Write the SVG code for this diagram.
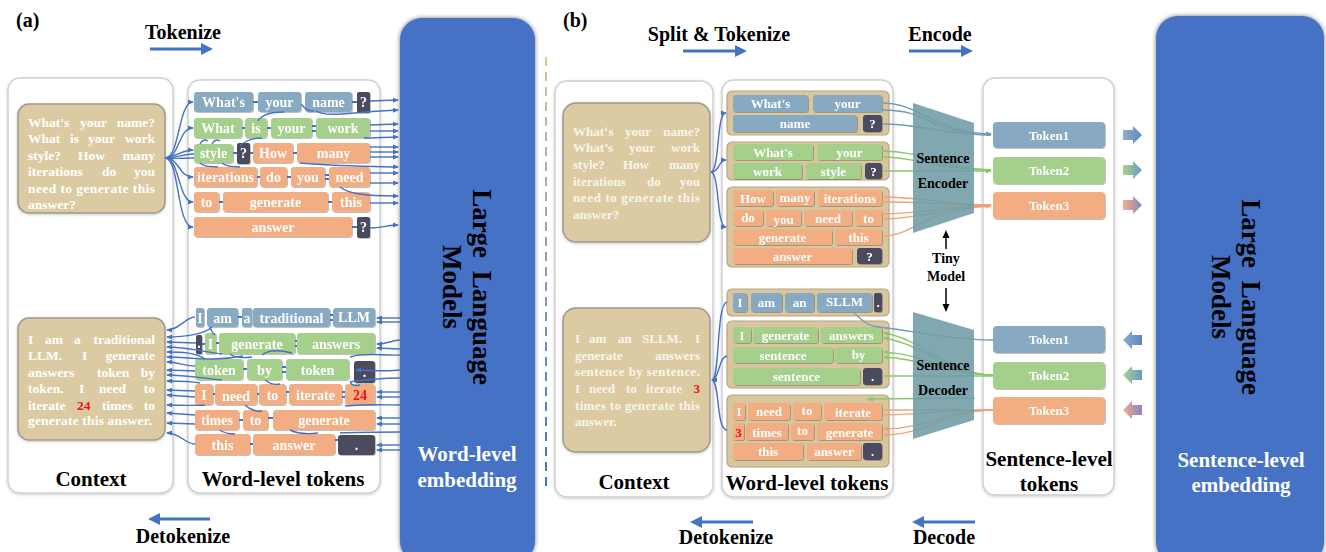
<svg xmlns="http://www.w3.org/2000/svg" width="1326" height="552" viewBox="0 0 1326 552">
<defs>
<style>
.serif{font-family:"Liberation Serif","Times New Roman",serif;font-weight:bold}
.title{font-family:"Liberation Serif","Times New Roman",serif;font-weight:bold;font-size:20px;fill:#000}
.lbl{font-family:"Liberation Serif","Times New Roman",serif;font-weight:bold;font-size:21px;fill:#000;text-anchor:middle}
.panel{fill:#fff;stroke:#cfcfcf;stroke-width:1.5}
.ctx{fill:#DCCBA2;stroke:#9d998f;stroke-width:1.5}
.ctxt{font-family:"Liberation Serif","Times New Roman",serif;font-weight:bold;font-size:13.5px;fill:#fff}
.ctxb{font-family:"Liberation Serif","Times New Roman",serif;font-weight:bold;font-size:13px;fill:#F9F5EC}
.tb{fill:#87A9C1}
.tg{fill:#A5D08C}
.to{fill:#F2AE82}
.td{fill:#4B4B5E}
.tt{font-family:"Liberation Serif","Times New Roman",serif;font-weight:bold;font-size:14px;fill:#fff;text-anchor:middle}
.tu{font-family:"Liberation Serif","Times New Roman",serif;font-weight:bold;font-size:13px;fill:#fff;text-anchor:middle}
.red{fill:#E8141B}
.grp{fill:#D8C69F;stroke:#B6A582;stroke-width:1.2}
.llm{fill:#4472C4}
.llmt{font-family:"Liberation Serif","Times New Roman",serif;font-weight:bold;font-size:27px;fill:#000;text-anchor:middle}
.emb{font-family:"Liberation Serif","Times New Roman",serif;font-weight:bold;font-size:21px;fill:#fff;text-anchor:middle}
.c{fill:none;stroke:#4472C4;stroke-width:1.4}
.cd{fill:none;stroke:#4472C4;stroke-width:2.2}
.cs{fill:none;stroke:#6E9CBA;stroke-width:1.3}
.cg{fill:none;stroke:#8DC56E;stroke-width:1.3}
.co{fill:none;stroke:#F0A274;stroke-width:1.3}
.big{fill:none;stroke:#4472C4;stroke-width:3}
.trap{fill:#6F9CA5;opacity:0.88}
.trt{font-family:"Liberation Serif","Times New Roman",serif;font-weight:bold;font-size:14px;fill:#000;text-anchor:middle}
</style>
<filter id="sh" x="-20%" y="-30%" width="140%" height="160%"><feDropShadow dx="0.8" dy="0.8" stdDeviation="0.7" flood-color="#000" flood-opacity="0.3"/></filter>
<filter id="psh" x="-10%" y="-10%" width="120%" height="120%"><feDropShadow dx="0" dy="1" stdDeviation="1.5" flood-color="#000" flood-opacity="0.2"/></filter>
<filter id="bsh" x="-10%" y="-10%" width="120%" height="120%"><feDropShadow dx="0" dy="0" stdDeviation="2.2" flood-color="#222" flood-opacity="0.65"/></filter>
<marker id="ab" markerWidth="6" markerHeight="6" refX="5" refY="3" orient="auto" markerUnits="userSpaceOnUse"><path d="M0,0.5 L6,3 L0,5.5z" fill="#4472C4"/></marker>
<marker id="as" markerWidth="6" markerHeight="6" refX="5" refY="3" orient="auto" markerUnits="userSpaceOnUse"><path d="M0,0.5 L6,3 L0,5.5z" fill="#6E9CBA"/></marker>
<marker id="ag" markerWidth="6" markerHeight="6" refX="5" refY="3" orient="auto" markerUnits="userSpaceOnUse"><path d="M0,0.5 L6,3 L0,5.5z" fill="#8DC56E"/></marker>
<marker id="ao" markerWidth="6" markerHeight="6" refX="5" refY="3" orient="auto" markerUnits="userSpaceOnUse"><path d="M0,0.5 L6,3 L0,5.5z" fill="#F0A274"/></marker>
<marker id="abig" markerWidth="12" markerHeight="12" refX="0" refY="6" orient="auto" markerUnits="userSpaceOnUse"><path d="M0,0 L12,6 L0,12z" fill="#4472C4"/></marker>
<marker id="ak" markerWidth="8" markerHeight="8" refX="0" refY="4" orient="auto" markerUnits="userSpaceOnUse"><path d="M0,0.5 L8,4 L0,7.5z" fill="#000"/></marker>
<linearGradient id="dash" gradientUnits="userSpaceOnUse" x1="546" y1="57" x2="546" y2="490"><stop offset="0" stop-color="#D9C39A"/><stop offset="1" stop-color="#4472C4"/></linearGradient>
<linearGradient id="gr1" x1="0" y1="0" x2="1" y2="0"><stop offset="0" stop-color="#8FB0C6"/><stop offset="1" stop-color="#5B86C6"/></linearGradient>
<linearGradient id="gr2" x1="0" y1="0" x2="1" y2="0"><stop offset="0" stop-color="#A8D38E"/><stop offset="1" stop-color="#6C98C6"/></linearGradient>
<linearGradient id="gr3" x1="0" y1="0" x2="1" y2="0"><stop offset="0" stop-color="#F4B088"/><stop offset="1" stop-color="#8A82C4"/></linearGradient>
</defs>
<rect width="1326" height="552" fill="#fff"/>

<!-- ===== Part (a): word-level pipeline ===== -->
<text class="title" x="16" y="27">(a)</text>
<text class="title" x="183" y="39" text-anchor="middle">Tokenize</text>
<text class="title" x="183" y="543" text-anchor="middle">Detokenize</text>

<g id="a-context-panel"><rect class="panel" x="8" y="78" width="165" height="415" rx="12" filter="url(#psh)"/><text class="lbl" x="91" y="486">Context</text></g>
<g id="a-token-panel"><rect class="panel" x="188" y="80" width="192" height="413" rx="12" filter="url(#psh)"/><text class="lbl" x="283" y="486">Word-level tokens</text></g>

<g id="a-context-question">
<rect class="ctx" x="18" y="104" width="147" height="109" rx="11" filter="url(#psh)"/>
<text class="ctxt" y="127"><tspan x="28">What's</tspan><tspan x="80">your</tspan><tspan x="155" text-anchor="end">name?</tspan></text>
<text class="ctxt" y="143"><tspan x="28">What</tspan><tspan x="70">is</tspan><tspan x="88">your</tspan><tspan x="155" text-anchor="end">work</tspan></text>
<text class="ctxt" y="160"><tspan x="28">style?</tspan><tspan x="78">How</tspan><tspan x="155" text-anchor="end">many</tspan></text>
<text class="ctxt" y="176"><tspan x="28">iterations</tspan><tspan x="102">do</tspan><tspan x="155" text-anchor="end">you</tspan></text>
<text class="ctxt" x="28" y="193" textLength="127" lengthAdjust="spacing">need to generate this</text>
<text class="ctxt" x="28" y="209">answer?</text>
</g>
<g id="a-context-answer">
<rect class="ctx" x="18" y="318" width="147" height="122" rx="11" filter="url(#psh)"/>
<text class="ctxt" y="344"><tspan x="28">I</tspan><tspan x="45">am</tspan><tspan x="74">a</tspan><tspan x="155" text-anchor="end">traditional</tspan></text>
<text class="ctxt" y="360"><tspan x="28">LLM.</tspan><tspan x="82">I</tspan><tspan x="155" text-anchor="end">generate</tspan></text>
<text class="ctxt" y="377"><tspan x="28">answers</tspan><tspan x="97">token</tspan><tspan x="155" text-anchor="end">by</tspan></text>
<text class="ctxt" y="393"><tspan x="28">token.</tspan><tspan x="79">I</tspan><tspan x="99">need</tspan><tspan x="155" text-anchor="end">to</tspan></text>
<text class="ctxt" y="410"><tspan x="28">iterate</tspan><tspan x="77" class="red">24</tspan><tspan x="102">times</tspan><tspan x="155" text-anchor="end">to</tspan></text>
<text class="ctxt" x="28" y="425" textLength="124" lengthAdjust="spacing">generate this answer.</text>
</g>

<!-- word tokens of the question -->
<g id="a-question-tokens" filter="url(#sh)">
<g id="aq-whats"><rect class="tb" x="194" y="92" width="59" height="20" rx="3"/><text class="tt" x="223.5" y="107">What's</text></g>
<g id="aq-your"><rect class="tb" x="258" y="92" width="43" height="20" rx="3"/><text class="tt" x="279.5" y="107">your</text></g>
<g id="aq-name"><rect class="tb" x="305" y="92" width="47" height="20" rx="3"/><text class="tt" x="328.5" y="107">name</text></g>
<g id="aq-q1"><rect class="td" x="357" y="92" width="13" height="21" rx="2"/><text class="tt" x="363.5" y="107">?</text></g>
<g id="aq-what"><rect class="tg" x="194" y="118" width="48" height="20" rx="3"/><text class="tt" x="218" y="133">What</text></g>
<g id="aq-is"><rect class="tg" x="245" y="118" width="22" height="20" rx="3"/><text class="tt" x="256" y="133">is</text></g>
<g id="aq-your2"><rect class="tg" x="271" y="118" width="41" height="20" rx="3"/><text class="tt" x="291.5" y="133">your</text></g>
<g id="aq-work"><rect class="tg" x="316" y="118" width="54" height="20" rx="3"/><text class="tt" x="343" y="133">work</text></g>
<g id="aq-style"><rect class="tg" x="194" y="144" width="39" height="19" rx="3"/><text class="tt" x="213.5" y="158">style</text></g>
<g id="aq-q2"><rect class="td" x="237" y="143" width="13" height="21" rx="2"/><text class="tt" x="243.5" y="158">?</text></g>
<g id="aq-how"><rect class="to" x="253" y="143" width="40" height="20" rx="3"/><text class="tt" x="273" y="158">How</text></g>
<g id="aq-many"><rect class="to" x="297" y="143" width="73" height="20" rx="3"/><text class="tt" x="333.5" y="158" font-size="12">many</text></g>
<g id="aq-iterations"><rect class="to" x="194" y="167" width="63" height="20" rx="3"/><text class="tt" x="225.5" y="182" font-size="12.5">iterations</text></g>
<g id="aq-do"><rect class="to" x="260" y="167" width="27" height="20" rx="3"/><text class="tt" x="273.5" y="182">do</text></g>
<g id="aq-you"><rect class="to" x="291" y="167" width="34" height="20" rx="3"/><text class="tt" x="308" y="182">you</text></g>
<g id="aq-need"><rect class="to" x="329" y="167" width="41" height="20" rx="3"/><text class="tt" x="349.5" y="182">need</text></g>
<g id="aq-to"><rect class="to" x="194" y="192" width="25" height="20" rx="3"/><text class="tt" x="206.5" y="207">to</text></g>
<g id="aq-generate"><rect class="to" x="223" y="192" width="105" height="20" rx="3"/><text class="tt" x="275.5" y="207">generate</text></g>
<g id="aq-this"><rect class="to" x="332" y="192" width="38" height="20" rx="3"/><text class="tt" x="351" y="207">this</text></g>
<g id="aq-answer"><rect class="to" x="194" y="217" width="158" height="20" rx="3"/><text class="tt" x="273" y="232">answer</text></g>
<g id="aq-q3"><rect class="td" x="357" y="217" width="13" height="21" rx="2"/><text class="tt" x="363.5" y="232">?</text></g>
</g>

<!-- word tokens of the answer -->
<g id="a-answer-tokens" filter="url(#sh)">
<g id="aa-i1"><rect class="tb" x="196" y="308" width="8" height="19" rx="2"/><text class="tt" x="200" y="322.5">I</text></g>
<g id="aa-am"><rect class="tb" x="207" y="308" width="31" height="19" rx="3"/><text class="tt" x="222.5" y="322.5">am</text></g>
<g id="aa-a"><rect class="tb" x="242" y="308" width="10" height="19" rx="2"/><text class="tt" x="247" y="322.5">a</text></g>
<g id="aa-traditional"><rect class="tb" x="253" y="308" width="77" height="19" rx="3"/><text class="tt" x="291.5" y="322.5">traditional</text></g>
<g id="aa-llm"><rect class="tb" x="333" y="308" width="42" height="19" rx="3"/><text class="tt" x="354" y="322" font-size="12">LLM</text></g>
<g id="aa-dot1"><rect class="td" x="196" y="335" width="6" height="19" rx="1.5"/><text class="tt" x="199" y="348" font-size="11">.</text></g>
<g id="aa-i2"><rect class="tg" x="205" y="333" width="11" height="21" rx="2"/><text class="tt" x="210.5" y="348.5">I</text></g>
<g id="aa-generate"><rect class="tg" x="219" y="333" width="76" height="21" rx="3"/><text class="tt" x="257" y="348.5">generate</text></g>
<g id="aa-answers"><rect class="tg" x="297" y="333" width="78" height="21" rx="3"/><text class="tt" x="336" y="348.5">answers</text></g>
<g id="aa-token1"><rect class="tg" x="195" y="359" width="48" height="21" rx="3"/><text class="tt" x="219" y="374.5">token</text></g>
<g id="aa-by"><rect class="tg" x="247" y="359" width="35" height="21" rx="3"/><text class="tt" x="264.5" y="374.5">by</text></g>
<g id="aa-token2"><rect class="tg" x="286" y="359" width="63" height="21" rx="3"/><text class="tt" x="317.5" y="374.5">token</text></g>
<g id="aa-dot2"><rect class="td" x="354" y="361" width="21" height="22" rx="3"/><text class="tt" x="364.5" y="377">.</text></g>
<g id="aa-i3"><rect class="to" x="195" y="384" width="18" height="21" rx="3"/><text class="tt" x="204" y="399.5">I</text></g>
<g id="aa-need"><rect class="to" x="215" y="384" width="42" height="21" rx="3"/><text class="tt" x="236" y="401">need</text></g>
<g id="aa-to1"><rect class="to" x="259" y="384" width="27" height="21" rx="3"/><text class="tt" x="272.5" y="399.5">to</text></g>
<g id="aa-iterate"><rect class="to" x="289" y="384" width="53" height="21" rx="3"/><text class="tt" x="315.5" y="399.5">iterate</text></g>
<g id="aa-24"><rect class="to" x="345" y="384" width="30" height="21" rx="3"/><text class="tt red" x="360" y="399.5">24</text></g>
<g id="aa-times"><rect class="to" x="195" y="410" width="44" height="20" rx="3"/><text class="tt" x="217" y="425">times</text></g>
<g id="aa-to2"><rect class="to" x="243" y="410" width="25" height="20" rx="3"/><text class="tt" x="255.5" y="425">to</text></g>
<g id="aa-generate2"><rect class="to" x="273" y="410" width="102" height="20" rx="3"/><text class="tt" x="324" y="425">generate</text></g>
<g id="aa-this"><rect class="to" x="195" y="434" width="55" height="21" rx="3"/><text class="tt" x="222.5" y="449.5">this</text></g>
<g id="aa-answer"><rect class="to" x="253" y="434" width="82" height="21" rx="3"/><text class="tt" x="294" y="449.5">answer</text></g>
<g id="aa-dot3"><rect class="td" x="338" y="435" width="37" height="20" rx="3"/><text class="tt" x="356.5" y="450">.</text></g>
</g>

<g id="a-llm">
<rect class="llm" x="400" y="18" width="135" height="545" rx="22" filter="url(#bsh)"/>
<g transform="translate(467,287) rotate(90)">
<text class="llmt" x="0" y="-6" word-spacing="6">Large Language</text>
<text class="llmt" x="0" y="24">Models</text>
</g>
<text class="emb" x="467" y="461">Word-level</text>
<text class="emb" x="467" y="487">embedding</text>
</g>

<!-- divider between the two parts -->
<line x1="546" y1="57" x2="546" y2="490" stroke="url(#dash)" stroke-width="2" stroke-dasharray="9 6"/>

<!-- ===== Part (b): sentence-level pipeline ===== -->
<text class="title" x="563" y="27">(b)</text>
<text class="title" x="719" y="41" text-anchor="middle">Split &amp; Tokenize</text>
<text class="title" x="940" y="41" text-anchor="middle">Encode</text>
<text class="title" x="726" y="544" text-anchor="middle">Detokenize</text>
<text class="title" x="944" y="544" text-anchor="middle">Decode</text>

<g id="b-context-panel"><rect class="panel" x="555" y="81" width="158" height="416" rx="12" filter="url(#psh)"/><text class="lbl" x="634" y="489">Context</text></g>
<g id="b-token-panel"><rect class="panel" x="722" y="80" width="171" height="417" rx="12" filter="url(#psh)"/><text class="lbl" x="807" y="490">Word-level tokens</text></g>
<g id="b-sentence-panel"><rect class="panel" x="983" y="78" width="131" height="417" rx="12" filter="url(#psh)"/><text class="lbl" x="1049" y="466">Sentence-level</text><text class="lbl" x="1049" y="491">tokens</text></g>

<g id="b-context-question">
<rect class="ctx" x="563" y="103" width="147" height="139" rx="13" filter="url(#psh)"/>
<text class="ctxb" y="136"><tspan x="573">What‘s</tspan><tspan x="625">your</tspan><tspan x="700" text-anchor="end">name?</tspan></text>
<text class="ctxb" y="152"><tspan x="573">What’s</tspan><tspan x="629">your</tspan><tspan x="700" text-anchor="end">work</tspan></text>
<text class="ctxb" y="169"><tspan x="573">style?</tspan><tspan x="623">How</tspan><tspan x="700" text-anchor="end">many</tspan></text>
<text class="ctxb" y="186"><tspan x="573">iterations</tspan><tspan x="647">do</tspan><tspan x="700" text-anchor="end">you</tspan></text>
<text class="ctxb" x="573" y="202" textLength="127" lengthAdjust="spacing">need to generate this</text>
<text class="ctxb" x="573" y="219">answer?</text>
</g>
<g id="b-context-answer">
<rect class="ctx" x="563" y="308" width="147" height="144" rx="13" filter="url(#psh)"/>
<text class="ctxb" y="343"><tspan x="575">I</tspan><tspan x="589">am</tspan><tspan x="618">an</tspan><tspan x="642">SLLM.</tspan><tspan x="700" text-anchor="end">I</tspan></text>
<text class="ctxb" y="360"><tspan x="575">generate</tspan><tspan x="700" text-anchor="end">answers</tspan></text>
<text class="ctxb" x="575" y="376" textLength="125" lengthAdjust="spacing">sentence by sentence.</text>
<text class="ctxb" y="393"><tspan x="575">I</tspan><tspan x="589">need</tspan><tspan x="626">to</tspan><tspan x="646">iterate</tspan><tspan x="700" text-anchor="end" class="red">3</tspan></text>
<text class="ctxb" x="575" y="410" textLength="125" lengthAdjust="spacing">times to generate this</text>
<text class="ctxb" x="575" y="426">answer.</text>
</g>

<!-- sentence groups of word tokens -->
<g id="b-sentence-1">
<rect class="grp" x="727" y="91" width="162" height="44" rx="5"/>
<g filter="url(#sh)">
<g id="b1-whats"><rect class="tb" x="733" y="95" width="75" height="17" rx="3"/><text class="tu" x="770.5" y="108">What's</text></g>
<g id="b1-your"><rect class="tb" x="813" y="95" width="69" height="17" rx="3"/><text class="tu" x="847.5" y="108">your</text></g>
<g id="b1-name"><rect class="tb" x="733" y="115" width="124" height="17" rx="3"/><text class="tu" x="795" y="128">name</text></g>
<g id="b1-q"><rect class="td" x="863" y="115" width="19" height="17" rx="3"/><text class="tu" x="872.5" y="128">?</text></g>
</g></g>
<g id="b-sentence-2">
<rect class="grp" x="727" y="142" width="162" height="38" rx="5"/>
<g filter="url(#sh)">
<g id="b2-whats"><rect class="tg" x="733" y="144" width="80" height="16" rx="3"/><text class="tu" x="773" y="156.5">What's</text></g>
<g id="b2-your"><rect class="tg" x="817" y="144" width="65" height="16" rx="3"/><text class="tu" x="849.5" y="157">your</text></g>
<g id="b2-work"><rect class="tg" x="733" y="163" width="69" height="16" rx="3"/><text class="tu" x="767.5" y="175.5">work</text></g>
<g id="b2-style"><rect class="tg" x="806" y="163" width="55" height="16" rx="3"/><text class="tu" x="833.5" y="175.5">style</text></g>
<g id="b2-q"><rect class="td" x="865" y="163" width="17" height="16" rx="3"/><text class="tu" x="873.5" y="175.5">?</text></g>
</g></g>
<g id="b-sentence-3">
<rect class="grp" x="727" y="187" width="162" height="80" rx="5"/>
<g filter="url(#sh)">
<g id="b3-how"><rect class="to" x="733" y="190" width="40" height="16" rx="3"/><text class="tu" x="753" y="202.5" font-size="12">How</text></g>
<g id="b3-many"><rect class="to" x="776" y="190" width="38" height="16" rx="3"/><text class="tu" x="795" y="202" font-size="9.5">many</text></g>
<g id="b3-iterations"><rect class="to" x="818" y="190" width="64" height="16" rx="3"/><text class="tu" x="850" y="202.5" font-size="12">iterations</text></g>
<g id="b3-do"><rect class="to" x="733" y="210" width="30" height="16" rx="3"/><text class="tu" x="748" y="222">do</text></g>
<g id="b3-you"><rect class="to" x="766" y="210" width="35" height="16" rx="3"/><text class="tu" x="783.5" y="223.5">you</text></g>
<g id="b3-need"><rect class="to" x="804" y="210" width="48" height="16" rx="3"/><text class="tu" x="828" y="223">need</text></g>
<g id="b3-to"><rect class="to" x="855" y="210" width="27" height="16" rx="3"/><text class="tu" x="868.5" y="223">to</text></g>
<g id="b3-generate"><rect class="to" x="733" y="229" width="99" height="16" rx="3"/><text class="tu" x="782.5" y="242">generate</text></g>
<g id="b3-this"><rect class="to" x="835" y="229" width="47" height="16" rx="3"/><text class="tu" x="858.5" y="242">this</text></g>
<g id="b3-answer"><rect class="to" x="733" y="248" width="119" height="16" rx="3"/><text class="tu" x="792.5" y="261">answer</text></g>
<g id="b3-q"><rect class="td" x="857" y="248" width="25" height="16" rx="3"/><text class="tu" x="869.5" y="261">?</text></g>
</g></g>
<g id="b-sentence-4">
<rect class="grp" x="727" y="289" width="162" height="27" rx="5"/>
<g filter="url(#sh)">
<g id="b4-i"><rect class="tb" x="733" y="293" width="14" height="19" rx="3"/><text class="tu" x="740" y="307">I</text></g>
<g id="b4-am"><rect class="tb" x="751" y="293" width="31" height="19" rx="3"/><text class="tu" x="766.5" y="307">am</text></g>
<g id="b4-an"><rect class="tb" x="785" y="293" width="29" height="19" rx="3"/><text class="tu" x="799.5" y="307">an</text></g>
<g id="b4-sllm"><rect class="tb" x="817" y="293" width="55" height="19" rx="3"/><text class="tu" x="844.5" y="306">SLLM</text></g>
<g id="b4-dot"><rect class="td" x="874" y="293" width="8" height="19" rx="2"/><text class="tu" x="878" y="307">.</text></g>
</g></g>
<g id="b-sentence-5">
<rect class="grp" x="727" y="321" width="162" height="67" rx="5"/>
<g filter="url(#sh)">
<g id="b5-i"><rect class="tg" x="733" y="327" width="18" height="16" rx="3"/><text class="tu" x="742" y="339.5">I</text></g>
<g id="b5-generate"><rect class="tg" x="753" y="327" width="65" height="16" rx="3"/><text class="tu" x="785.5" y="340">generate</text></g>
<g id="b5-answers"><rect class="tg" x="821" y="327" width="61" height="16" rx="3"/><text class="tu" x="851.5" y="340">answers</text></g>
<g id="b5-sentence1"><rect class="tg" x="733" y="347" width="100" height="16" rx="3"/><text class="tu" x="783" y="360">sentence</text></g>
<g id="b5-by"><rect class="tg" x="835" y="347" width="47" height="16" rx="3"/><text class="tu" x="858.5" y="359">by</text></g>
<g id="b5-sentence2"><rect class="tg" x="733" y="368" width="127" height="17" rx="3"/><text class="tu" x="796.5" y="381">sentence</text></g>
<g id="b5-dot"><rect class="td" x="863" y="368" width="19" height="17" rx="3"/><text class="tu" x="872.5" y="381">.</text></g>
</g></g>
<g id="b-sentence-6">
<rect class="grp" x="727" y="395" width="162" height="72" rx="5"/>
<g filter="url(#sh)">
<g id="b6-i"><rect class="to" x="733" y="403" width="12" height="17" rx="3"/><text class="tu" x="739" y="416">I</text></g>
<g id="b6-need"><rect class="to" x="748" y="403" width="42" height="17" rx="3"/><text class="tu" x="769" y="416">need</text></g>
<g id="b6-to1"><rect class="to" x="793" y="403" width="28" height="17" rx="3"/><text class="tu" x="807" y="415">to</text></g>
<g id="b6-iterate"><rect class="to" x="824" y="403" width="58" height="17" rx="3"/><text class="tu" x="853" y="417">iterate</text></g>
<g id="b6-3"><rect class="to" x="733" y="423" width="11" height="17" rx="2"/><text class="tu red" x="738.5" y="437">3</text></g>
<g id="b6-times"><rect class="to" x="746" y="423" width="42" height="17" rx="3"/><text class="tu" x="767" y="437">times</text></g>
<g id="b6-to2"><rect class="to" x="791" y="423" width="23" height="17" rx="3"/><text class="tu" x="802.5" y="435">to</text></g>
<g id="b6-generate"><rect class="to" x="817" y="423" width="65" height="17" rx="3"/><text class="tu" x="849.5" y="437">generate</text></g>
<g id="b6-this"><rect class="to" x="733" y="443" width="70" height="17" rx="3"/><text class="tu" x="768" y="456">this</text></g>
<g id="b6-answer"><rect class="to" x="807" y="443" width="54" height="17" rx="3"/><text class="tu" x="834" y="456">answer</text></g>
<g id="b6-dot"><rect class="td" x="863" y="443" width="19" height="17" rx="3"/><text class="tu" x="872.5" y="456">.</text></g>
</g></g>

<!-- ===== connectors ===== -->
<g id="connectors">
<!-- (a) context to question tokens -->
<path class="c" marker-end="url(#ab)" d="M165,158 C180,158 178,102 193,102"/>
<path class="c" marker-end="url(#ab)" d="M165,158 C180,158 178,128 193,128"/>
<path class="c" marker-end="url(#ab)" d="M165,158 C178,156 182,150 193,150"/>
<path class="c" d="M165,158 C178,158 182,154 194,154"/>
<path class="c" d="M165,158 C178,159 182,158 194,158"/>
<path class="c" marker-end="url(#ab)" d="M165,158 C180,158 178,177 193,177"/>
<path class="c" marker-end="url(#ab)" d="M165,158 C180,158 178,202 193,202"/>
<path class="c" marker-end="url(#ab)" d="M165,158 C180,158 176,227 193,227"/>
<!-- (a) links between question tokens -->
<path class="cd" d="M253,102 L258,102 M352,102 L357,102 M242,128 L245,128 M267,128 L271,128 M312,126 L316,126 M312,131 L316,131 M233,153 L237,153 M250,153 L253,153 M293,153 L297,153 M257,177 L260,177 M287,177 L291,177 M325,175 L329,175 M325,179 L329,179 M219,202 L223,202 M328,202 L332,202 M352,227 L357,227"/>
<path class="c" d="M301,104 C305,109 308,111 314,111"/>
<path class="c" d="M258,121 C262,114 272,112 284,112"/>
<path class="c" d="M240,146 C246,140 254,138 262,138"/>
<path class="c" d="M200,144 C202,140 205,139 208,141 M212,144 C214,140 217,139 220,141"/>
<path class="c" d="M200,163 C205,168 213,166 218,167 M222,163 C228,168 234,166 240,167"/>
<!-- (a) question tokens to the model -->
<path class="c" marker-end="url(#ab)" d="M370,101 L398,100"/>
<path class="c" marker-end="url(#ab)" d="M316,111 C328,118 350,112 398,110"/>
<path class="c" marker-end="url(#ab)" d="M370,125 L398,124"/>
<path class="c" marker-end="url(#ab)" d="M370,131 L398,131"/>
<path class="c" marker-end="url(#ab)" d="M364,138 C376,138 386,137 398,137"/>
<path class="c" marker-end="url(#ab)" d="M370,147 L398,147"/>
<path class="c" marker-end="url(#ab)" d="M370,152 L398,152"/>
<path class="c" marker-end="url(#ab)" d="M370,157 L398,157"/>
<path class="c" marker-end="url(#ab)" d="M300,163 C330,166 360,166 398,167"/>
<path class="c" marker-end="url(#ab)" d="M370,173 L398,173"/>
<path class="c" marker-end="url(#ab)" d="M370,183 L398,183"/>
<path class="c" marker-end="url(#ab)" d="M340,187 C348,193 360,196 398,196"/>
<path class="c" marker-end="url(#ab)" d="M370,203 L398,203"/>
<path class="c" marker-end="url(#ab)" d="M370,228 C382,228 388,225 398,225"/>
<!-- (a) answer tokens back to the context -->
<path class="c" marker-end="url(#ab)" d="M195,317 C185,317 180,330 167,330"/>
<path class="c" marker-end="url(#ab)" d="M212,327 C205,334 185,337 167,337"/>
<path class="c" marker-end="url(#ab)" d="M196,343 L167,342"/>
<path class="c" marker-end="url(#ab)" d="M222,354 C205,352 185,347 167,347"/>
<path class="c" marker-end="url(#ab)" d="M205,359 C195,352 180,352 167,352"/>
<path class="c" marker-end="url(#ab)" d="M243,356 C212,362 190,357 167,357"/>
<path class="c" marker-end="url(#ab)" d="M195,366 C185,366 178,362 167,362"/>
<path class="c" marker-end="url(#ab)" d="M195,371 L167,370"/>
<path class="c" marker-end="url(#ab)" d="M222,380 C200,378 185,375 167,375"/>
<path class="c" marker-end="url(#ab)" d="M200,383 C190,381 180,381 167,381"/>
<path class="c" marker-end="url(#ab)" d="M195,391 L167,390"/>
<path class="c" marker-end="url(#ab)" d="M195,397 L167,395"/>
<path class="c" marker-end="url(#ab)" d="M205,405 C195,406 180,405 167,405"/>
<path class="c" marker-end="url(#ab)" d="M195,415 L167,413"/>
<path class="c" marker-end="url(#ab)" d="M195,424 L167,423"/>
<path class="c" marker-end="url(#ab)" d="M195,444 C185,444 180,433 167,433"/>
<!-- (a) links between answer tokens -->
<path class="cd" d="M238,317 L242,317 M330,315 L333,315 M330,320 L333,320 M202,344 L205,344 M216,343 L219,343 M295,341 L297,341 M295,346 L297,346 M243,369 L247,369 M282,367 L286,367 M282,372 L286,372 M213,394 L215,394 M257,394 L259,394 M286,392 L289,392 M342,392 L345,392 M342,397 L345,397 M239,420 L243,420 M268,418 L273,418 M250,444 L253,444 M335,440 L338,440"/>
<path class="c" d="M230,354 C235,358 245,358 252,357"/>
<path class="c" d="M262,355 C268,350 280,350 292,353"/>
<path class="c" d="M210,327 C212,332 214,336 215,334"/>
<path class="c" d="M265,380 C270,384 275,385 280,384"/>
<path class="c" d="M245,405 C250,410 258,412 262,411"/>
<path class="c" d="M220,430 C225,434 230,434 235,434"/>
<path class="c" d="M290,430 C300,435 310,434 318,433"/>
<path class="c" d="M350,382 C352,386 356,386 360,385"/>
<!-- (a) model output back to the answer tokens -->
<path class="c" marker-end="url(#ab)" d="M400,318 L377,318"/>
<path class="c" marker-end="url(#ab)" d="M400,322 L377,322"/>
<path class="c" marker-end="url(#ab)" d="M400,340 C392,340 388,344 377,344"/>
<path class="c" marker-end="url(#ab)" d="M400,349 L377,348"/>
<path class="c" d="M400,355 C385,356 365,352 350,357"/>
<path class="c" marker-end="url(#ab)" d="M400,370 C385,372 370,370 356,370"/>
<path class="c" d="M400,378 C385,378 360,380 350,382"/>
<path class="c" marker-end="url(#ab)" d="M400,392 L377,392"/>
<path class="c" marker-end="url(#ab)" d="M400,397 L377,397"/>
<path class="c" d="M400,405 C385,405 370,404 345,406"/>
<path class="c" marker-end="url(#ab)" d="M400,418 L377,418"/>
<path class="c" marker-end="url(#ab)" d="M400,424 L377,424"/>
<path class="c" d="M400,432 C385,432 360,432 340,433"/>
<path class="c" marker-end="url(#ab)" d="M400,445 L377,445"/>
<path class="c" marker-end="url(#ab)" d="M400,450 L377,450"/>

<!-- (b) context to sentence groups -->
<path class="c" marker-end="url(#ab)" d="M711,172 C720,170 716,113 726,113"/>
<path class="c" marker-end="url(#ab)" d="M711,172 C720,172 718,160 726,160"/>
<path class="c" marker-end="url(#ab)" d="M711,172 C720,174 716,227 726,227"/>
<path class="c" marker-end="url(#ab)" d="M727,302 C716,304 720,380 712,380"/>
<path class="c" d="M727,356 C718,358 720,378 712,380"/>
<path class="c" d="M727,430 C716,430 720,382 712,380"/>
<!-- (b) sentence groups into the encoder -->
<path class="cs" marker-end="url(#as)" d="M882,103 C920,103 935,133 991,134"/>
<path class="cs" d="M882,110 C915,110 925,120 940,126 C955,131 970,135 991,135"/>
<path class="cs" d="M882,124 C925,124 940,135 991,135"/>
<path class="cg" d="M882,151 C925,151 940,169 991,170"/>
<path class="cg" d="M882,157 C915,157 935,169 991,170"/>
<path class="cg" marker-end="url(#ag)" d="M882,171 L991,171"/>
<path class="co" d="M882,197 C925,197 945,205 991,205"/>
<path class="co" d="M882,202 C925,202 945,205 991,205"/>
<path class="co" d="M882,214 C925,214 945,205 991,205"/>
<path class="co" d="M882,219 C925,219 945,206 991,206"/>
<path class="co" marker-end="url(#ao)" d="M882,236 C915,236 920,210 991,206"/>
<!-- (b) decoder out to the sentence groups -->
<path class="cs" d="M993,340 C950,340 910,330 878,327 C862,325 858,314 852,312"/>
<path class="cg" marker-end="url(#ag)" d="M993,375 C950,375 925,340 884,333"/>
<path class="cg" marker-end="url(#ag)" d="M993,375 C950,375 925,345 884,338"/>
<path class="cg" marker-end="url(#ag)" d="M993,375 C950,375 930,355 884,352"/>
<path class="cg" marker-end="url(#ag)" d="M993,375 C950,375 930,360 884,357"/>
<path class="cg" d="M993,376 L884,376"/>
<path class="cg" marker-end="url(#ag)" d="M975,398 L868,399"/>
<path class="co" d="M993,410 C950,410 930,410 884,410"/>
<path class="co" d="M993,410 C950,410 930,414 884,415"/>
<path class="co" marker-end="url(#ao)" d="M993,410 C945,410 930,428 884,429"/>
<path class="co" marker-end="url(#ao)" d="M993,410 C945,410 930,434 884,435"/>

<!-- stage arrows -->
<line class="big" x1="150" y1="49" x2="201" y2="49" marker-end="url(#abig)"/>
<line class="big" x1="210" y1="519" x2="160" y2="519" marker-end="url(#abig)"/>
<line class="big" x1="683" y1="51" x2="735" y2="51" marker-end="url(#abig)"/>
<line class="big" x1="909" y1="51" x2="961" y2="51" marker-end="url(#abig)"/>
<line class="big" x1="753" y1="522" x2="702" y2="522" marker-end="url(#abig)"/>
<line class="big" x1="975" y1="522" x2="924" y2="522" marker-end="url(#abig)"/>
<!-- tiny model arrows -->
<line x1="946" y1="249" x2="946" y2="238" stroke="#000" stroke-width="1.5" marker-end="url(#ak)"/>
<line x1="946" y1="288" x2="946" y2="304" stroke="#000" stroke-width="1.5" marker-end="url(#ak)"/>
</g>

<g id="b-encoder">
<polygon class="trap" points="913,103 974,123 974,213 913,233"/>
<text class="trt" x="943" y="163">Sentence</text>
<text class="trt" x="943" y="188">Encoder</text>
</g>
<g id="b-decoder">
<polygon class="trap" points="913,312 974,330 974,420 913,439"/>
<text class="trt" x="943" y="370">Sentence</text>
<text class="trt" x="943" y="395">Decoder</text>
</g>
<g id="b-tiny-model">
<text class="trt" x="946" y="263">Tiny</text>
<text class="trt" x="946" y="281">Model</text>
</g>

<g id="b-sentence-tokens" filter="url(#sh)">
<g id="st-in-1"><rect class="tb" x="993" y="122" width="112" height="26" rx="4"/><text class="tu" x="1049" y="139.5">Token1</text></g>
<g id="st-in-2"><rect class="tg" x="993" y="157" width="112" height="27" rx="4"/><text class="tu" x="1049" y="175">Token2</text></g>
<g id="st-in-3"><rect class="to" x="993" y="192" width="112" height="27" rx="4"/><text class="tu" x="1049" y="210">Token3</text></g>
<g id="st-out-1"><rect class="tb" x="993" y="326" width="112" height="27" rx="4"/><text class="tu" x="1049" y="344">Token1</text></g>
<g id="st-out-2"><rect class="tg" x="993" y="362" width="112" height="27" rx="4"/><text class="tu" x="1049" y="380">Token2</text></g>
<g id="st-out-3"><rect class="to" x="993" y="397" width="112" height="27" rx="4"/><text class="tu" x="1049" y="415">Token3</text></g>
</g>

<g id="b-block-arrows">
<path fill="url(#gr1)" d="M1123,130 L1133,130 L1133,126 L1142,135 L1133,144 L1133,140 L1123,140z"/>
<path fill="url(#gr2)" d="M1123,165 L1133,165 L1133,161 L1142,170 L1133,179 L1133,175 L1123,175z"/>
<path fill="url(#gr3)" d="M1123,200 L1133,200 L1133,196 L1142,205 L1133,214 L1133,210 L1123,210z"/>
<path fill="url(#gr1)" d="M1142,335 L1132,335 L1132,331 L1123,340 L1132,349 L1132,345 L1142,345z"/>
<path fill="url(#gr2)" d="M1142,370 L1132,370 L1132,366 L1123,375 L1132,384 L1132,380 L1142,380z"/>
<path fill="url(#gr3)" d="M1142,405 L1132,405 L1132,401 L1123,410 L1132,419 L1132,415 L1142,415z"/>
</g>

<g id="b-llm">
<rect class="llm" x="1156" y="16" width="168" height="548" rx="22" filter="url(#bsh)"/>
<g transform="translate(1236,297) rotate(90)">
<text class="llmt" x="0" y="-6" word-spacing="6">Large Language</text>
<text class="llmt" x="0" y="24">Models</text>
</g>
<text class="emb" x="1241" y="467">Sentence-level</text>
<text class="emb" x="1241" y="492">embedding</text>
</g>
</svg>
